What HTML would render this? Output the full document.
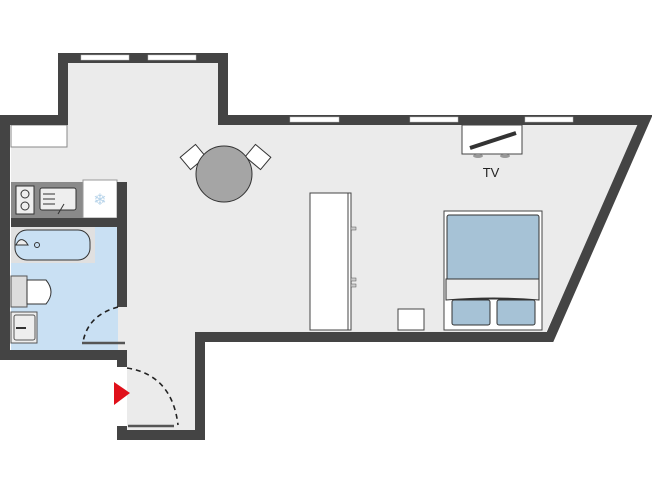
<!DOCTYPE html>
<html><head><style>html,body{margin:0;padding:0;background:#fff;width:652px;height:497px;overflow:hidden}</style></head>
<body>
<svg width="652" height="497" viewBox="0 0 652 497" xmlns="http://www.w3.org/2000/svg" font-family="Liberation Sans, sans-serif">
<polygon points="11,125 68,125 68,63 218,63 218,125 640,125 546,332 205,332 205,430 127,430 127,350 11,350" fill="#ebebeb"/>
<rect x="11" y="227" width="107" height="123" fill="#c9e0f3"/>
<rect x="11" y="125" width="56" height="22" fill="#fff" stroke="#888" stroke-width="1"/>
<!-- kitchen -->
<rect x="11" y="182" width="72" height="36" fill="#8a8a8a"/>
<rect x="16" y="186" width="18" height="28" fill="#eee" stroke="#333"/>
<circle cx="25" cy="194" r="4" fill="none" stroke="#333"/><circle cx="25" cy="206" r="4" fill="none" stroke="#333"/>
<rect x="40" y="188" width="36" height="22" rx="2" fill="#eee" stroke="#333"/>
<line x1="43" y1="194" x2="55" y2="194" stroke="#333"/><line x1="43" y1="199" x2="55" y2="199" stroke="#333"/><line x1="43" y1="204" x2="55" y2="204" stroke="#333"/>
<line x1="58" y1="214" x2="64" y2="204" stroke="#333"/>
<rect x="83" y="180" width="34" height="38" fill="#fff" stroke="#999"/>
<text x="100" y="205" font-size="16" fill="#b8d4ea" text-anchor="middle">❄</text>
<rect x="11" y="218" width="109" height="9" fill="#444"/>
<!-- bath -->
<rect x="11" y="227" width="84" height="36" fill="#e0e0e0"/>
<rect x="15" y="230" width="75" height="30" rx="12" fill="#c9e0f3" stroke="#333"/>
<circle cx="37" cy="245" r="2.5" fill="none" stroke="#333"/>
<path d="M16 245 Q20 236 26 242 L28 245 Z" fill="#eee" stroke="#333"/>
<rect x="11" y="276" width="16" height="31" fill="#ddd" stroke="#555"/>
<path d="M27 280 L46 280 Q56 292 46 304 L27 304 Z" fill="#fff" stroke="#333"/>
<rect x="11" y="312" width="26" height="31" fill="#eee" stroke="#555"/>
<rect x="14" y="315" width="21" height="25" rx="2" fill="#eee" stroke="#555"/>
<line x1="16" y1="328" x2="26" y2="328" stroke="#333" stroke-width="2"/>
<!-- walls -->
<path d="M122 355 L5 355 L5 120 L63 120 L63 58 L223 58 L223 120 L645 120 L550 337 L200 337 L200 435 L122 435" fill="none" stroke="#444" stroke-width="10" stroke-linejoin="miter"/>
<rect x="117" y="182" width="10" height="125" fill="#444"/>
<rect x="117" y="350" width="10" height="17" fill="#444"/>
<rect x="117" y="426" width="10" height="14" fill="#444"/>
<!-- windows -->
<g fill="#fff" stroke="#bbb" stroke-width="0.5">
<rect x="81" y="55" width="48" height="5"/><rect x="148" y="55" width="48" height="5"/>
<rect x="290" y="117" width="49" height="5"/><rect x="410" y="117" width="48" height="5"/><rect x="525" y="117" width="48" height="5"/>
</g>
<!-- doors -->
<path d="M118 307 Q88 315 83 342" fill="none" stroke="#222" stroke-width="1.6" stroke-dasharray="5,4"/>
<line x1="82" y1="343" x2="125" y2="343" stroke="#555" stroke-width="2.5"/>
<path d="M127 368 Q172 375 178 425" fill="none" stroke="#222" stroke-width="1.6" stroke-dasharray="5,4"/>
<line x1="128" y1="426" x2="174" y2="426" stroke="#555" stroke-width="2.5"/>
<polygon points="114,382 130,393 114,405" fill="#e0101a"/>
<!-- table -->
<g transform="rotate(-40 193 157)"><rect x="183" y="149" width="20" height="16" fill="#fff" stroke="#333"/></g>
<g transform="rotate(40 258 157)"><rect x="248" y="149" width="20" height="16" fill="#fff" stroke="#333"/></g>
<circle cx="224" cy="174" r="28" fill="#a5a5a5" stroke="#333"/>
<!-- wardrobe -->
<rect x="310" y="193" width="41" height="137" fill="#fff" stroke="#444"/>
<line x1="348" y1="193" x2="348" y2="330" stroke="#444"/>
<rect x="351" y="227" width="5" height="3" fill="#ccc" stroke="#555" stroke-width="0.5"/>
<rect x="351" y="278" width="5" height="3" fill="#ccc" stroke="#555" stroke-width="0.5"/>
<rect x="351" y="284" width="5" height="3" fill="#ccc" stroke="#555" stroke-width="0.5"/>
<!-- nightstand -->
<rect x="398" y="309" width="26" height="21" fill="#fff" stroke="#444"/>
<!-- bed -->
<rect x="444" y="211" width="98" height="119" fill="#fff" stroke="#444"/>
<rect x="447" y="215" width="92" height="84" rx="2" fill="#a6c2d6" stroke="#333"/>
<path d="M446 279 L539 279 L539 300 Q495 296 446 300 Z" fill="#eee" stroke="#333"/>
<rect x="452" y="300" width="38" height="25" rx="2" fill="#a6c2d6" stroke="#333"/>
<rect x="497" y="300" width="38" height="25" rx="2" fill="#a6c2d6" stroke="#333"/>
<!-- TV -->
<rect x="462" y="125" width="60" height="29" fill="#fff" stroke="#444"/>
<line x1="470" y1="148" x2="516" y2="133" stroke="#333" stroke-width="4"/>
<ellipse cx="478" cy="156" rx="5" ry="2" fill="#999"/><ellipse cx="505" cy="156" rx="5" ry="2" fill="#999"/>
<text x="491" y="177" font-size="13" fill="#222" text-anchor="middle">TV</text>
</svg>
</body></html>
